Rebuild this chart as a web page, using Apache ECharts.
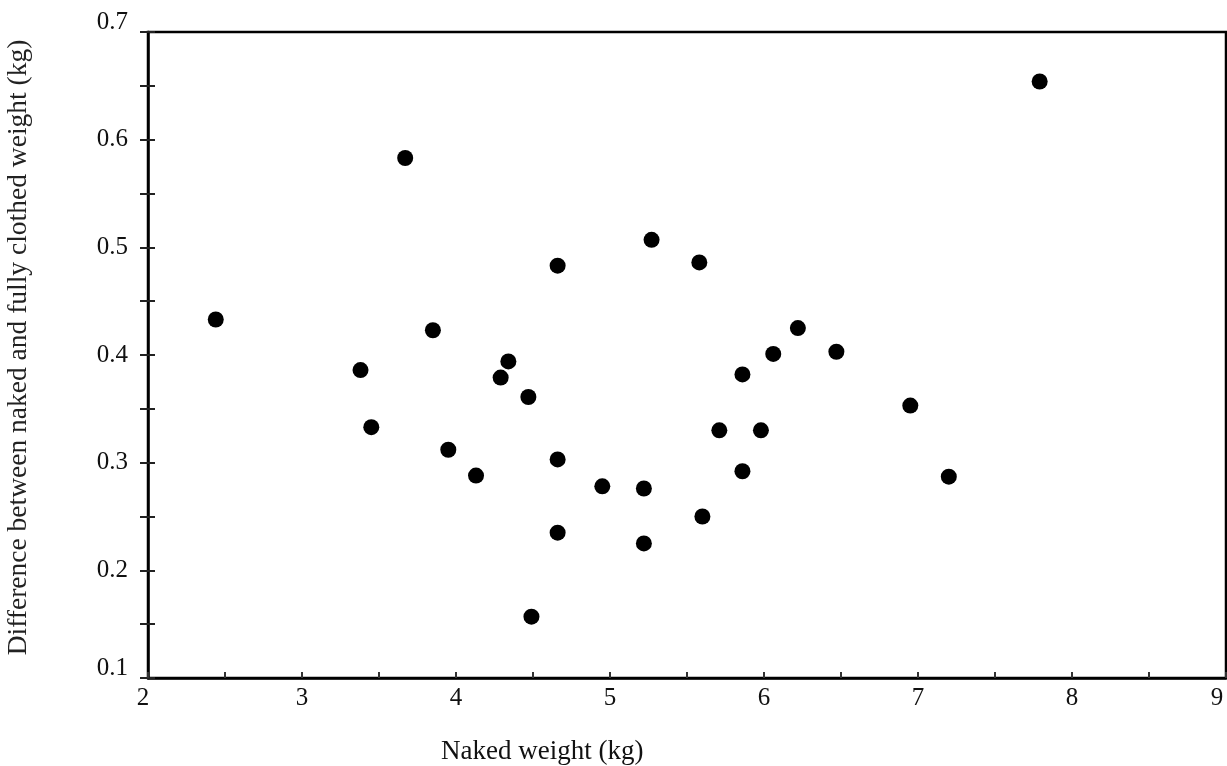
<html lang="en">
<head>
    <meta charset="UTF-8">
    <title>Naked vs clothed weight</title>
    <style>
        html, body { margin: 0; padding: 0; background: #fff; overflow: hidden; }
        #echart { position: absolute; left: 0; top: 0; width: 1227px; height: 766px; }
    </style>
</head>
<body>
    <div id="echart"></div>
    <script src="https://cdn.jsdelivr.net/npm/echarts@6/dist/echarts.min.js"></script>
    <script>
        // 裸重 (kg)
        const nakedWeight = [
            2.44, 3.67, 3.38, 3.45, 3.85, 3.95, 4.13, 4.29, 4.34, 4.47,
            4.49, 4.66, 4.66, 4.66, 4.95, 5.22, 5.22, 5.27, 5.58, 5.60,
            5.71, 5.86, 5.86, 5.98, 6.06, 6.22, 6.47, 6.95, 7.20, 7.79
        ]
        // 穿衣与裸重之差 (kg)
        const weightDiff = [
            0.433, 0.583, 0.386, 0.333, 0.423, 0.312, 0.288, 0.379, 0.394, 0.361,
            0.157, 0.483, 0.303, 0.235, 0.278, 0.276, 0.225, 0.507, 0.486, 0.250,
            0.330, 0.382, 0.292, 0.330, 0.401, 0.425, 0.403, 0.353, 0.287, 0.654
        ]
        const xTitle = 'Naked weight (kg)'
        const yTitle = 'Difference between naked and fully clothed weight (kg)'

        const points = nakedWeight.map((x, i) => [x, weightDiff[i]])
        const serif = 'Liberation Serif'

        const echart = echarts.init(document.getElementById('echart'))
        echart.setOption({
            animation: false,
            title: {
                text: xTitle,
                left: 436,
                top: 733,
                textStyle: { fontFamily: serif, fontSize: 27, fontWeight: 'normal', color: '#111' }
            },
            grid: {
                left: 148, right: 1, top: 32, bottom: 88,
                outerBoundsMode: 'none',
                show: true, borderColor: '#000', borderWidth: 2.5
            },
            xAxis: {
                type: 'value', min: 2, max: 9, interval: 1,
                axisLine: { lineStyle: { color: '#000', width: 2.5 } },
                axisTick: { inside: true, length: 6, lineStyle: { color: '#333', width: 2 } },
                minorTick: { show: true, splitNumber: 2, length: 6, lineStyle: { color: '#333', width: 2 } },
                splitLine: { show: false },
                axisLabel: {
                    fontFamily: serif, fontSize: 25, color: '#111', margin: 8,
                    // 首尾两个刻度值往里挪，免得被裁掉
                    formatter: v => v === 9 ? '{r|9}' : v === 2 ? '{l|2}' : String(v),
                    rich: {
                        r: { fontFamily: serif, fontSize: 25, color: '#111', padding: [0, 18, 0, 0] },
                        l: { fontFamily: serif, fontSize: 25, color: '#111', padding: [0, 10, 0, 0] }
                    }
                }
            },
            yAxis: [
                {
                    type: 'value', min: 0.1, max: 0.7, interval: 0.1,
                    name: yTitle,
                    nameLocation: 'middle',
                    nameGap: 115,
                    nameTextStyle: { fontFamily: serif, fontSize: 27.5, color: '#222', padding: [0, 0, 0, 15] },
                    axisLine: { lineStyle: { color: '#000', width: 2.5 } },
                    axisTick: { inside: false, length: 8, lineStyle: { color: '#222', width: 2 } },
                    minorTick: { show: true, splitNumber: 2, length: 8, lineStyle: { color: '#222', width: 2 } },
                    splitLine: { show: false },
                    axisLabel: {
                        fontFamily: serif, fontSize: 25, color: '#111', margin: 20,
                        // 两端的刻度值在原图里往里偏了一点
                        formatter: v => {
                            const s = v.toFixed(1)
                            return (s === '0.7' || s === '0.1') ? '{e|' + s + '}' : s
                        },
                        rich: { e: { fontFamily: serif, fontSize: 25, color: '#111', padding: [0, 0, 20, 0] } }
                    }
                },
                {
                    // 第二个轴只用来画穿过轴线的内侧刻度
                    type: 'value', min: 0.1, max: 0.7, interval: 0.1, position: 'left',
                    axisLine: { show: false },
                    axisTick: { inside: true, length: 7, lineStyle: { color: '#222', width: 2 } },
                    minorTick: { show: true, splitNumber: 2, length: 7, lineStyle: { color: '#222', width: 2 } },
                    splitLine: { show: false },
                    axisLabel: { show: false }
                }
            ],
            series: [{
                type: 'scatter',
                data: points,
                symbolSize: 16,
                itemStyle: { color: '#000', opacity: 1 }
            }]
        })
    </script>
</body>
</html>
